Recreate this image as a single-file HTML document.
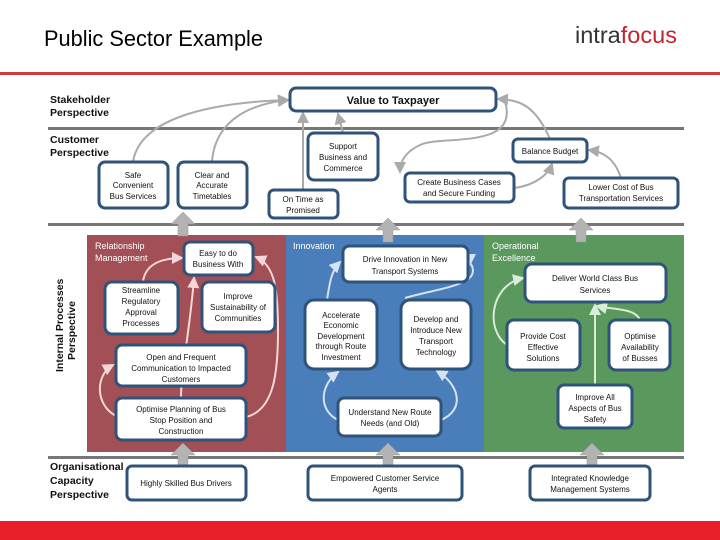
<!DOCTYPE html>
<html><head><meta charset="utf-8"><style>
body{margin:0;width:720px;height:540px;overflow:hidden;background:#fff;font-family:"Liberation Sans",sans-serif}
svg{position:absolute;left:0;top:0}
text{font-family:"Liberation Sans",sans-serif}
</style></head><body>
<svg width="720" height="540" viewBox="0 0 720 540">
<defs>
<marker id="ag" markerWidth="6" markerHeight="6" refX="5" refY="3" orient="auto"><path d="M0,0 L6,3 L0,6z" fill="#aaa"/></marker>
<marker id="ap" markerWidth="6" markerHeight="6" refX="5" refY="3" orient="auto"><path d="M0,0 L6,3 L0,6z" fill="#f4d6d8"/></marker>
<marker id="ab" markerWidth="6" markerHeight="6" refX="5" refY="3" orient="auto"><path d="M0,0 L6,3 L0,6z" fill="#d4e2f1"/></marker>
<marker id="agr" markerWidth="6" markerHeight="6" refX="5" refY="3" orient="auto"><path d="M0,0 L6,3 L0,6z" fill="#d8ecd8"/></marker>
</defs>
<text x="44" y="46" font-size="22" fill="#000" textLength="219" lengthAdjust="spacingAndGlyphs">Public Sector Example</text>
<text x="575" y="43" font-size="23" fill="#333" textLength="102" lengthAdjust="spacingAndGlyphs">intra<tspan fill="#c8202f">focus</tspan></text>
<rect x="0" y="72" width="720" height="3" fill="#d0393b"/>
<rect x="0" y="521" width="720" height="19" fill="#e8202a"/>
<rect x="87" y="235" width="199" height="217" fill="#a24f56"/>
<rect x="286" y="235" width="198" height="217" fill="#4a7ebb"/>
<rect x="484" y="235" width="200" height="217" fill="#5a985d"/>
<rect x="48" y="127" width="636" height="3" fill="#777"/>
<rect x="48" y="223" width="636" height="3" fill="#777"/>
<rect x="48" y="456" width="636" height="3" fill="#777"/>
<g font-size="10.5" font-weight="bold" fill="#111">
<text x="50" y="103">Stakeholder</text><text x="50" y="116">Perspective</text>
<text x="50" y="143">Customer</text><text x="50" y="156">Perspective</text>
<text x="50" y="470">Organisational</text><text x="50" y="484">Capacity</text><text x="50" y="498">Perspective</text>
<text transform="translate(63,372) rotate(-90)">Internal Processes</text>
<text transform="translate(75,360) rotate(-90)">Perspective</text>
</g>
<g font-size="9" fill="#fff">
<text x="95" y="249">Relationship</text><text x="95" y="261">Management</text>
<text x="293" y="249">Innovation</text>
<text x="492" y="249">Operational</text><text x="492" y="261">Excellence</text>
</g>
<g fill="#b3b3b3" stroke="#999" stroke-width="0.5">
<path d="M178,236 v-12 h-7 l12,-12 l12,12 h-7 v12z"/>
<path d="M383,242 v-12 h-7 l12,-12 l12,12 h-7 v12z"/>
<path d="M576,242 v-12 h-7 l12,-12 l12,12 h-7 v12z"/>
<path d="M178,470 v-15 h-7 l12,-12 l12,12 h-7 v15z"/>
<path d="M383,470 v-15 h-7 l12,-12 l12,12 h-7 v15z"/>
<path d="M587,470 v-15 h-7 l12,-12 l12,12 h-7 v15z"/>
</g>
<g fill="none" stroke="#aaa" stroke-width="2">
<path d="M133,162 C140,115 220,102 288,100" marker-end="url(#ag)"/>
<path d="M212,162 C215,120 250,104 288,100" marker-end="url(#ag)"/>
<path d="M303,190 L303,113" marker-end="url(#ag)"/>
<path d="M343,133 L338,114" marker-end="url(#ag)"/>
<path d="M550,139 C535,105 520,100 498,99" marker-end="url(#ag)"/>
<path d="M505,102 C520,150 440,135 420,145 C405,152 400,162 400,172" marker-end="url(#ag)"/>
<path d="M515,188 C535,185 548,175 552,164" marker-end="url(#ag)"/>
<path d="M621,178 C615,160 605,152 589,150" marker-end="url(#ag)"/>
</g>
<g fill="none" stroke="#f4d6d8" stroke-width="2">
<path d="M143,282 C145,265 160,258 182,258" marker-end="url(#ap)"/>
<path d="M181,397 C181,370 190,330 194,278" marker-end="url(#ap)"/>
<path d="M246,417 C275,410 278,370 278,330 C278,290 275,265 256,257" marker-end="url(#ap)"/>
<path d="M116,416 C95,405 95,375 113,365" marker-end="url(#ap)"/>
</g>
<g fill="none" stroke="#d4e2f1" stroke-width="2">
<path d="M338,420 C318,410 320,385 338,372" marker-end="url(#ab)"/>
<path d="M441,420 C465,410 460,385 437,371" marker-end="url(#ab)"/>
<path d="M405,298 C440,288 480,285 472,266 C470,262 470,264 470,264" marker-end="url(#ab)"/>
<path d="M327,300 C330,280 332,270 340,262" marker-end="url(#ab)"/>
</g>
<g fill="none" stroke="#d8ecd8" stroke-width="2">
<path d="M507,345 C485,330 490,285 523,278" marker-end="url(#agr)"/>
<path d="M595,385 L595,305" marker-end="url(#agr)"/>
<path d="M640,320 C635,308 615,310 597,306" marker-end="url(#agr)"/>
</g>
<g fill="#fff" stroke="#2f5379" stroke-width="3">
<rect x="290" y="88" width="206" height="23" rx="6"/>
<rect x="99" y="162" width="69" height="46" rx="6"/>
<rect x="178" y="162" width="69" height="46" rx="6"/>
<rect x="269" y="190" width="69" height="28" rx="5"/>
<rect x="308" y="133" width="70" height="47" rx="6"/>
<rect x="513" y="139" width="74" height="23" rx="5"/>
<rect x="405" y="173" width="109" height="29" rx="5"/>
<rect x="564" y="178" width="114" height="30" rx="5"/>
<rect x="184" y="242" width="69" height="33" rx="6"/>
<rect x="105" y="282" width="73" height="52" rx="7"/>
<rect x="202" y="282" width="73" height="50" rx="7"/>
<rect x="116" y="345" width="130" height="41" rx="6"/>
<rect x="116" y="398" width="130" height="42" rx="6"/>
<rect x="343" y="246" width="125" height="36" rx="6"/>
<rect x="305" y="300" width="72" height="69" rx="9"/>
<rect x="401" y="300" width="70" height="69" rx="9"/>
<rect x="338" y="398" width="103" height="38" rx="6"/>
<rect x="525" y="264" width="141" height="38" rx="7"/>
<rect x="507" y="320" width="73" height="50" rx="7"/>
<rect x="609" y="320" width="61" height="50" rx="7"/>
<rect x="558" y="385" width="74" height="43" rx="6"/>
<rect x="127" y="466" width="119" height="34" rx="5"/>
<rect x="308" y="466" width="154" height="34" rx="5"/>
<rect x="530" y="466" width="120" height="34" rx="5"/>
</g>
<g font-size="8" fill="#111" text-anchor="middle">
<text x="393" y="104" font-size="11" font-weight="bold">Value to Taxpayer</text>
<text x="133" y="178">Safe</text><text x="133" y="188">Convenient</text><text x="133" y="199">Bus Services</text>
<text x="212" y="178">Clear and</text><text x="212" y="188">Accurate</text><text x="212" y="199">Timetables</text>
<text x="303" y="202">On Time as</text><text x="303" y="213">Promised</text>
<text x="343" y="149">Support</text><text x="343" y="160">Business and</text><text x="343" y="171">Commerce</text>
<text x="550" y="154">Balance Budget</text>
<text x="459" y="185">Create Business Cases</text><text x="459" y="196">and Secure Funding</text>
<text x="621" y="190">Lower Cost of Bus</text><text x="621" y="201">Transportation Services</text>
<text x="218" y="256">Easy to do</text><text x="218" y="267">Business With</text>
<text x="141" y="293">Streamline</text><text x="141" y="304">Regulatory</text><text x="141" y="315">Approval</text><text x="141" y="326">Processes</text>
<text x="238" y="299">Improve</text><text x="238" y="310">Sustainability of</text><text x="238" y="321">Communities</text>
<text x="181" y="360">Open and Frequent</text><text x="181" y="371">Communication to Impacted</text><text x="181" y="382">Customers</text>
<text x="181" y="412">Optimise Planning of Bus</text><text x="181" y="423">Stop Position and</text><text x="181" y="434">Construction</text>
<text x="405" y="262">Drive Innovation in New</text><text x="405" y="274">Transport Systems</text>
<text x="341" y="318">Accelerate</text><text x="341" y="328">Economic</text><text x="341" y="339">Development</text><text x="341" y="349">through Route</text><text x="341" y="360">Investment</text>
<text x="436" y="322">Develop and</text><text x="436" y="333">Introduce New</text><text x="436" y="344">Transport</text><text x="436" y="355">Technology</text>
<text x="390" y="415">Understand New Route</text><text x="390" y="426">Needs (and Old)</text>
<text x="595" y="281">Deliver World Class Bus</text><text x="595" y="293">Services</text>
<text x="543" y="339">Provide Cost</text><text x="543" y="350">Effective</text><text x="543" y="361">Solutions</text>
<text x="640" y="339">Optimise</text><text x="640" y="350">Availability</text><text x="640" y="361">of Busses</text>
<text x="595" y="400">Improve All</text><text x="595" y="411">Aspects of Bus</text><text x="595" y="422">Safety</text>
<text x="186" y="486">Highly Skilled Bus Drivers</text>
<text x="385" y="481">Empowered Customer Service</text><text x="385" y="492">Agents</text>
<text x="590" y="481">Integrated Knowledge</text><text x="590" y="492">Management Systems</text>
</g>
</svg>
</body></html>
